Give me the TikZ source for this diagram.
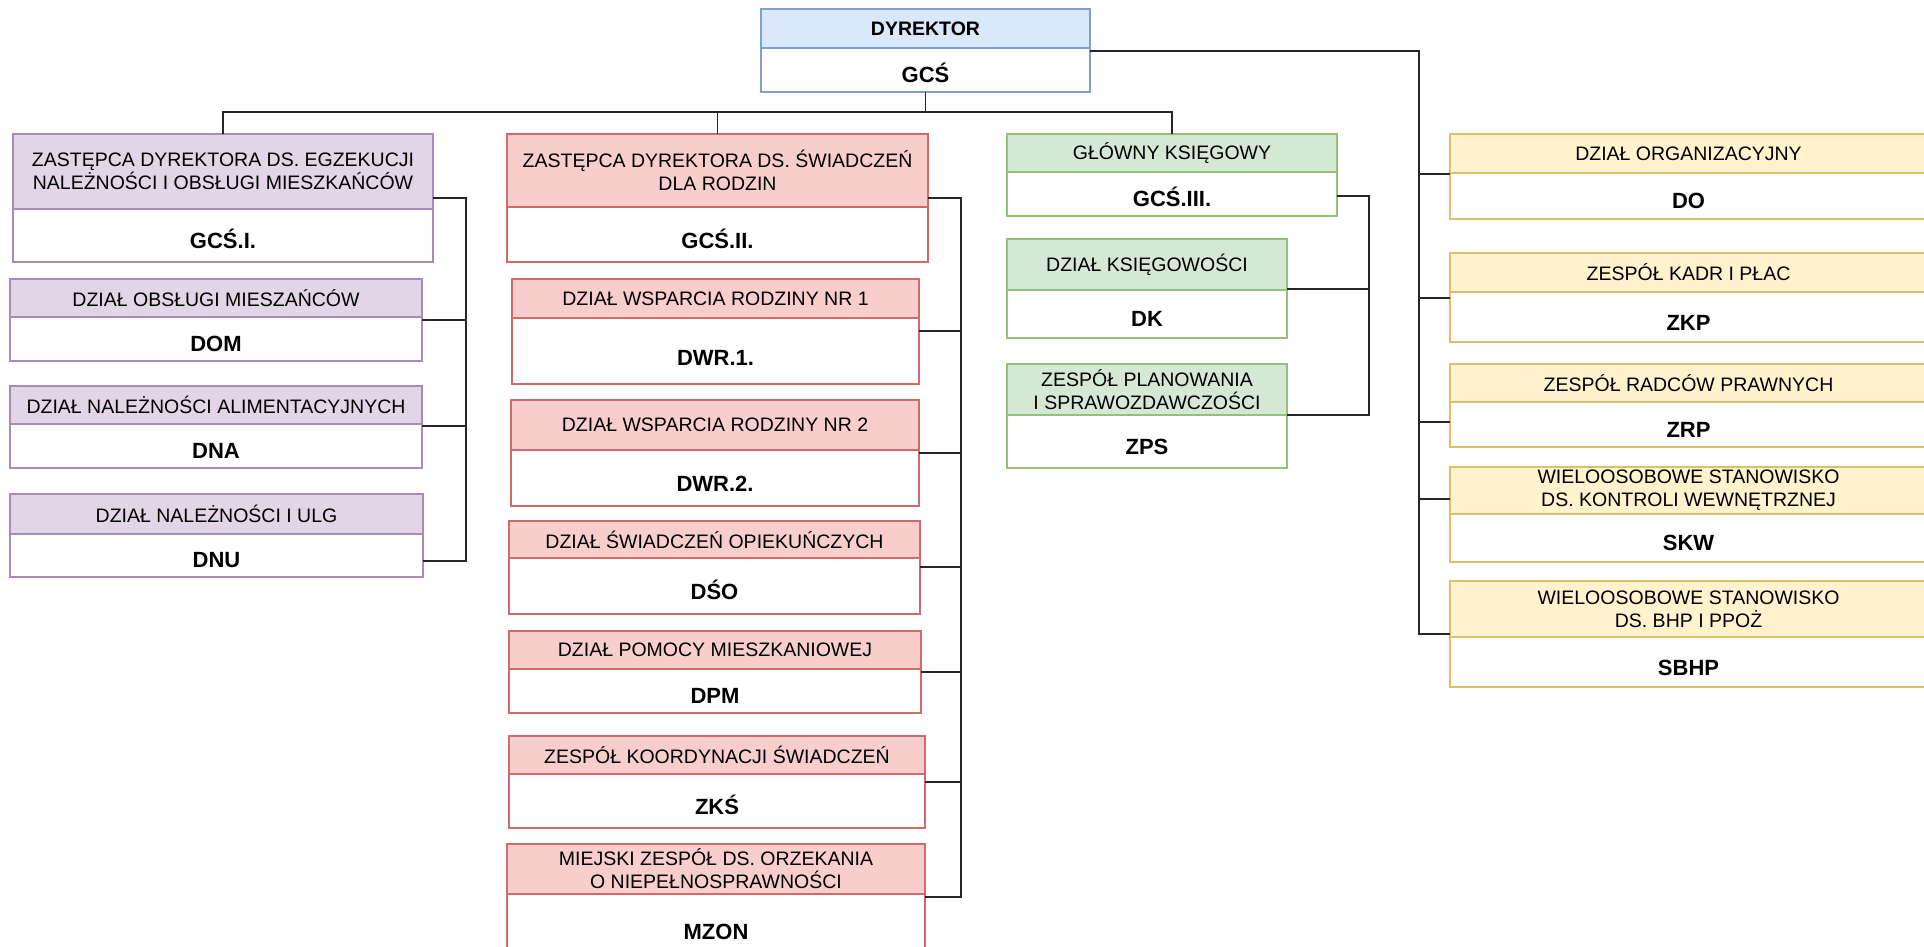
\documentclass[tikz,border=0pt]{standalone}
\usepackage{fontspec}
\setmainfont{Liberation Sans}
\usetikzlibrary{calc}
\definecolor{blD}{HTML}{7F9FD0}\definecolor{blF}{HTML}{DAE8FC}
\definecolor{puD}{HTML}{A98BB8}\definecolor{puF}{HTML}{E1D5E7}
\definecolor{reD}{HTML}{CF6B68}\definecolor{reF}{HTML}{F8CECC}
\definecolor{grD}{HTML}{93C07A}\definecolor{grF}{HTML}{D5E8D4}
\definecolor{yeD}{HTML}{DDC06A}\definecolor{yeF}{HTML}{FFF2CC}
\tikzset{
  conn/.style={draw=black!85, line width=1.5pt},
  hdtext/.style={font=\fontsize{19.5}{23}\selectfont, text=black, align=center, inner sep=0pt},
  codetext/.style={font=\fontsize{22}{24}\selectfont\bfseries, text=black, inner sep=0pt, text height=16pt, text depth=0pt},
  boxframe/.style={line width=1.4pt, inner sep=0pt, outer sep=0pt, anchor=north west},
}
% #1 name, #2 colour prefix, #3 x1, #4 y1, #5 x2, #6 y of header bottom, #7 y2, #8 header, #9 code
\newcommand\orgbox[9]{%
  \node[boxframe, draw=#2D, fill=white, minimum width={#5-#3}, minimum height={#7-#4}] (#1) at (#3,#4) {};
  \node[boxframe, draw=#2D, fill=#2F, minimum width={#5-#3}, minimum height={#6-#4}] (#1-h) at (#3,#4) {};
  \node[hdtext] (#1-t) at (#1-h.center) {#8};
  \node[codetext] (#1-c) at ($(#1-h.south)!0.6!(#1.south)$) {#9};
}
\begin{document}
\begin{tikzpicture}[x=1pt,y=-1pt]
\useasboundingbox (0,0) rectangle (1924,946);
\clip (0,0) rectangle (1924,946);
\fill[white] (0,0) rectangle (1924,946);

% director
\orgbox{dyr}{bl}{761}{9}{1090}{48}{92}{\textbf{DYREKTOR}}{GCŚ}

% purple branch
\orgbox{zeg}{pu}{13}{134}{433}{209}{262}{ZASTĘPCA DYREKTORA DS. EGZEKUCJI\\NALEŻNOŚCI I OBSŁUGI MIESZKAŃCÓW}{GCŚ.I.}
\orgbox{dom}{pu}{10}{279}{422}{317}{361}{DZIAŁ OBSŁUGI MIESZAŃCÓW}{DOM}
\orgbox{dna}{pu}{10}{386}{422}{424}{468}{DZIAŁ NALEŻNOŚCI ALIMENTACYJNYCH}{DNA}
\orgbox{dnu}{pu}{10}{494}{423}{534}{577}{DZIAŁ NALEŻNOŚCI I ULG}{DNU}

% red branch
\orgbox{zsw}{re}{507}{134}{928}{207}{262}{ZASTĘPCA DYREKTORA DS. ŚWIADCZEŃ\\DLA RODZIN}{GCŚ.II.}
\orgbox{dwra}{re}{512}{279}{919}{318}{384}{DZIAŁ WSPARCIA RODZINY NR 1}{DWR.1.}
\orgbox{dwrb}{re}{511}{400}{919}{450}{506}{DZIAŁ WSPARCIA RODZINY NR 2}{DWR.2.}
\orgbox{dso}{re}{509}{521}{920}{558}{614}{DZIAŁ ŚWIADCZEŃ OPIEKUŃCZYCH}{DŚO}
\orgbox{dpm}{re}{509}{631}{921}{669}{713}{DZIAŁ POMOCY MIESZKANIOWEJ}{DPM}
\orgbox{zks}{re}{509}{736}{925}{774}{828}{ZESPÓŁ KOORDYNACJI ŚWIADCZEŃ}{ZKŚ}
\orgbox{mzon}{re}{507}{844}{925}{894}{956}{MIEJSKI ZESPÓŁ DS. ORZEKANIA\\O NIEPEŁNOSPRAWNOŚCI}{MZON}

% green branch
\orgbox{gk}{gr}{1007}{134}{1337}{172}{216}{GŁÓWNY KSIĘGOWY}{GCŚ.III.}
\orgbox{dk}{gr}{1007}{239}{1287}{290}{338}{DZIAŁ KSIĘGOWOŚCI}{DK}
\orgbox{zps}{gr}{1007}{364}{1287}{415}{468}{ZESPÓŁ PLANOWANIA\\I SPRAWOZDAWCZOŚCI}{ZPS}

% yellow column
\orgbox{do}{ye}{1450}{134}{1927}{173}{219}{DZIAŁ ORGANIZACYJNY}{DO}
\orgbox{zkp}{ye}{1450}{253}{1927}{292}{342}{ZESPÓŁ KADR I PŁAC}{ZKP}
\orgbox{zrp}{ye}{1450}{364}{1927}{402}{447}{ZESPÓŁ RADCÓW PRAWNYCH}{ZRP}
\orgbox{skw}{ye}{1450}{467}{1927}{514}{562}{WIELOOSOBOWE STANOWISKO\\DS. KONTROLI WEWNĘTRZNEJ}{SKW}
\orgbox{sbhp}{ye}{1450}{581}{1927}{637}{687}{WIELOOSOBOWE STANOWISKO\\DS. BHP I PPOŻ}{SBHP}

% trunks
\coordinate (trP) at (466,0);
\coordinate (trS) at (961,0);
\coordinate (trG) at (1369,0);
\coordinate (trR) at (1419,0);

% top bus
\draw[conn] (dyr.south) -- ++(0,20) coordinate (busJ);
\draw[conn] (zeg.north) |- (busJ);
\draw[conn] (zsw.north) |- (busJ);
\draw[conn] (gk.north) |- (busJ);

% right column
\draw[conn] (dyr.east |- 0,51) -| (trR |- 0,634) -- (sbhp.west |- 0,634);
\foreach \n/\yy in {do/174, zkp/298, zrp/422, skw/499}
  \draw[conn] (\n.west |- 0,\yy) -- (trR |- 0,\yy);

% purple
\draw[conn] (zeg.east |- 0,198) -| (trP |- 0,561) -- (dnu.east |- 0,561);
\foreach \n/\yy in {dom/320, dna/426}
  \draw[conn] (\n.east |- 0,\yy) -- (trP |- 0,\yy);

% red
\draw[conn] (zsw.east |- 0,198) -| (trS |- 0,897) -- (mzon.east |- 0,897);
\foreach \n/\yy in {dwra/331, dwrb/453, dso/567, dpm/672, zks/782}
  \draw[conn] (\n.east |- 0,\yy) -- (trS |- 0,\yy);

% green
\draw[conn] (gk.east |- 0,196) -| (trG |- 0,415) -- (zps.east |- 0,415);
\draw[conn] (dk.east |- 0,289) -- (trG |- 0,289);
\end{tikzpicture}
\end{document}
